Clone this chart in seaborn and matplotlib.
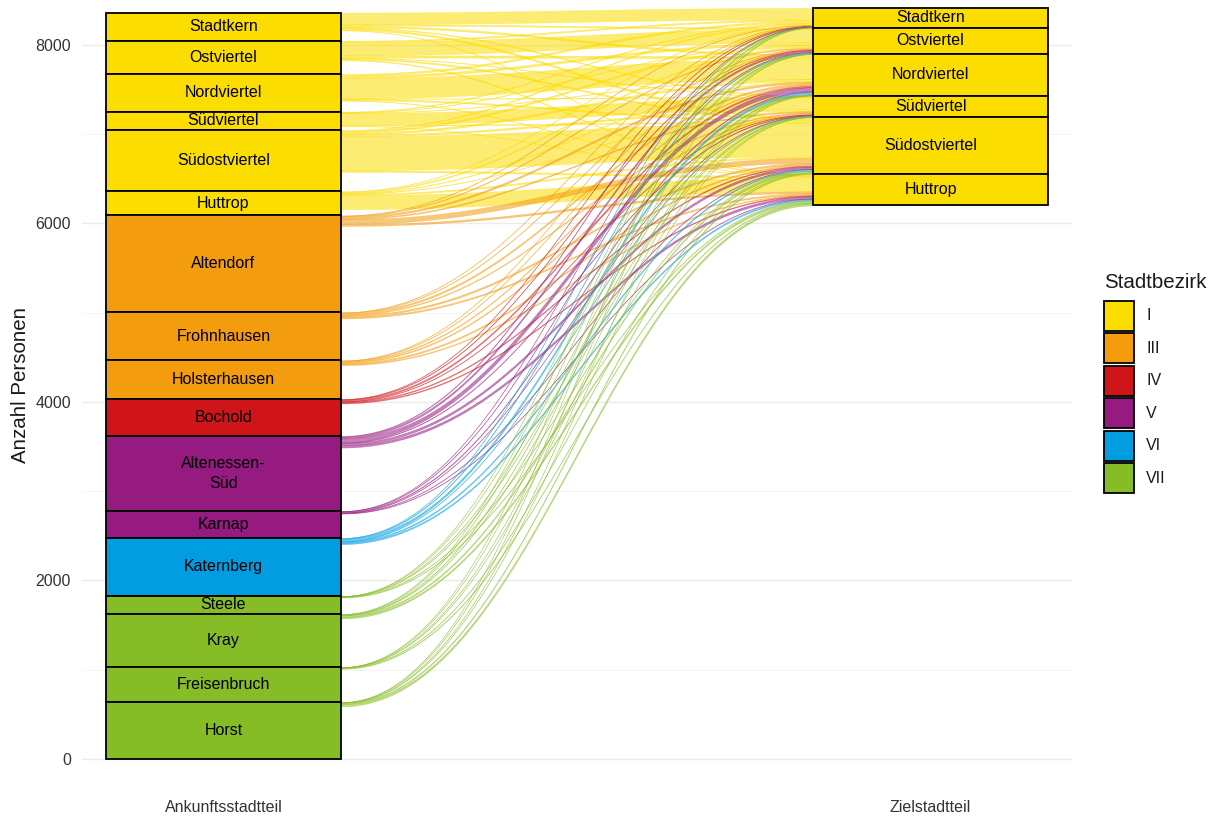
import matplotlib
matplotlib.use("Agg")
import numpy as np
import pandas as pd
import matplotlib.pyplot as plt
from matplotlib.patches import Rectangle
import seaborn as sns

# -----------------------------
# Data
# -----------------------------
# left axis, top to bottom
ankunft = ["Stadtkern", "Ostviertel", "Nordviertel", "Südviertel", "Südostviertel",
           "Huttrop", "Altendorf", "Frohnhausen", "Holsterhausen", "Bochold",
           "Altenessen-\nSüd", "Karnap", "Katernberg", "Steele", "Kray",
           "Freisenbruch", "Horst"]
ankunft_n = [314, 373, 422, 205, 687, 269, 1086, 538, 433, 414,
             840, 302, 650, 202, 594, 392, 638]
ankunft_bezirk = ["I", "I", "I", "I", "I", "I", "III", "III", "III", "IV",
                  "V", "V", "VI", "VII", "VII", "VII", "VII"]

# right axis, top to bottom (only Stadtbezirk I shown)
ziel = ["Stadtkern", "Ostviertel", "Nordviertel", "Südviertel", "Südostviertel", "Huttrop"]
ziel_bezirk = ["I"] * 6
ziel_ausserhalb = 6200   # persons whose Zielstadtteil is not shown

# persons per Ankunftsstadtteil -> Zielstadtteil (same order as `ziel`)
von_stadtkern     = [130, 15, 20, 10, 20, 5]
von_ostviertel    = [15, 150, 25, 5, 15, 10]
von_nordviertel   = [20, 25, 230, 5, 15, 5]
von_suedviertel   = [8, 5, 5, 130, 10, 2]
von_suedost       = [12, 20, 20, 20, 380, 18]
von_huttrop       = [5, 13, 7, 5, 15, 155]
von_altendorf     = [5, 8, 20, 12, 55, 20]
von_frohnhausen   = [3, 6, 18, 10, 18, 15]
von_holsterhausen = [3, 5, 10, 12, 15, 10]
von_bochold       = [3, 7, 15, 5, 10, 10]
von_altenessen    = [8, 20, 45, 8, 24, 25]
von_karnap        = [2, 5, 10, 3, 5, 5]
von_katernberg    = [2, 10, 25, 4, 14, 15]
von_steele        = [1, 1, 2, 3, 5, 6]
von_kray          = [1, 4, 7, 5, 15, 18]
von_freisenbruch  = [1, 1, 2, 2, 6, 8]
von_horst         = [1, 3, 3, 3, 13, 25]

bezirke = ["I", "III", "IV", "V", "VI", "VII"]
farben = ["#FCDD00", "#F39C0E", "#CF141A", "#951B81", "#009EE0", "#86BC25"]
pal = dict(zip(bezirke, farben))

fluesse = [von_stadtkern, von_ostviertel, von_nordviertel, von_suedviertel, von_suedost,
           von_huttrop, von_altendorf, von_frohnhausen, von_holsterhausen, von_bochold,
           von_altenessen, von_karnap, von_katernberg, von_steele, von_kray,
           von_freisenbruch, von_horst]

rows = []
for i, f in enumerate(fluesse):
    for j, n in enumerate(f):
        rows.append({"von": i, "nach": j, "n": n, "bezirk": ankunft_bezirk[i]})
df = pd.DataFrame(rows)

# -----------------------------
# Stacking (like ggalluvial)
# -----------------------------
links = pd.DataFrame({"name": ankunft, "n": ankunft_n, "bezirk": ankunft_bezirk})
links["top"] = sum(ankunft_n) - links["n"].cumsum().shift(fill_value=0)

rechts_n = df.groupby("nach")["n"].sum().reindex(range(len(ziel))).values
rechts = pd.DataFrame({"name": ziel, "n": rechts_n, "bezirk": ziel_bezirk})
rechts["top"] = ziel_ausserhalb + rechts_n.sum() - rechts["n"].cumsum().shift(fill_value=0)

df["y0_top"] = df["von"].map(links["top"]) - df.groupby("von")["n"].cumsum() + df["n"]
df = df.sort_values(["nach", "von"])
df["y1_top"] = df["nach"].map(rechts["top"]) - df.groupby("nach")["n"].cumsum() + df["n"]
df = df.sort_values(["von", "nach"])

# -----------------------------
# Plot
# -----------------------------
sns.set_theme(style="whitegrid")
plt.rcParams["font.family"] = ["Liberation Sans", "DejaVu Sans"]

W, H = 1217, 819
fig = plt.figure(figsize=(W / 100, H / 100), dpi=100)
ax = fig.add_axes([82 / W, 23 / H, 990 / W, 796 / H])

w = 1 / 3
x0, x1 = 1 + w / 2, 2 - w / 2
t = np.linspace(0, 1, 120)
k = 0.42 * (x1 - x0)
xs = (1 - t) ** 3 * x0 + 3 * (1 - t) ** 2 * t * (x0 + k) + 3 * (1 - t) * t ** 2 * (x1 - k) + t ** 3 * x1
s = 3 * t ** 2 - 2 * t ** 3

for _, r in df.iterrows():
    if r["n"] <= 0:
        continue
    top = r["y0_top"] + (r["y1_top"] - r["y0_top"]) * s
    ax.fill_between(xs, top - r["n"], top, color=pal[r["bezirk"]], alpha=0.55,
                    linewidth=0.3, edgecolor=pal[r["bezirk"]], zorder=2)

for xpos, strata in [(1, links), (2, rechts)]:
    ax.bar(xpos, strata["n"], bottom=strata["top"] - strata["n"], width=w,
           color=[pal[b] for b in strata["bezirk"]], edgecolor="black",
           linewidth=1.3, zorder=3)
    for _, r in strata.iterrows():
        ax.text(xpos, r["top"] - r["n"] / 2, r["name"], ha="center", va="center",
                fontsize=11.5, color="black", linespacing=1.35, zorder=4)

ax.set_xlim(0.8, 2.2)
ax.set_ylim(-414, 8500)
ax.set_xticks([1, 2])
ax.set_xticklabels(["Ankunftsstadtteil", "Zielstadtteil"], fontsize=11.5, color="#333333")
ax.set_yticks([0, 2000, 4000, 6000, 8000])
ax.set_yticks([1000, 3000, 5000, 7000], minor=True)
ax.tick_params(axis="y", labelsize=11.5, labelcolor="#333333", length=0, pad=8)
ax.tick_params(axis="x", length=0, pad=3)
ax.grid(axis="x", visible=False)
ax.grid(axis="y", which="major", color="#EBEBEB", linewidth=1.0)
ax.grid(axis="y", which="minor", color="#F2F2F2", linewidth=0.6)
ax.set_axisbelow(True)
for sp in ax.spines.values():
    sp.set_visible(False)
ax.set_facecolor("white")

ax.set_ylabel("Anzahl Personen", fontsize=14.8, color="#1A1A1A")
ax.yaxis.set_label_coords((21 - 82) / 990, (796 - 385) / 796)
ax.yaxis.label.set_va("center")

# legend (ggplot-style keys)
fig.text(1104 / W, 1 - 283 / H, "Stadtbezirk", fontsize=14.8, color="#1A1A1A",
         ha="left", va="center")
for i, b in enumerate(bezirke):
    ytop = 301 + i * 32.4
    fig.add_artist(Rectangle((1104 / W, 1 - (ytop + 30) / H), 30 / W, 30 / H,
                             transform=fig.transFigure, facecolor=pal[b],
                             edgecolor="black", linewidth=1.3))
    fig.text(1146 / W, 1 - (ytop + 15) / H, b, fontsize=11.5, color="#1A1A1A",
             ha="left", va="center")

fig.savefig("out.png", dpi=100)
plt.close(fig)
